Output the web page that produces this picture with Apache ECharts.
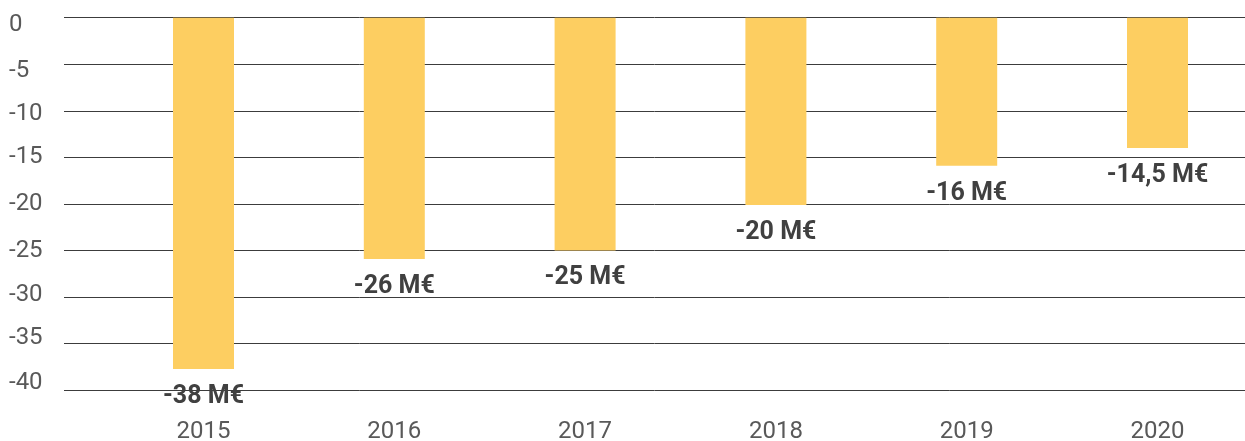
<!DOCTYPE html>
<html>
<head>
<meta charset="utf-8">
<script src="https://cdn.jsdelivr.net/npm/echarts@6/dist/echarts.min.js"></script>
<style>html,body{margin:0;padding:0;background:#fff}#c{width:1245px;height:441px}</style>
</head>
<body>
<div id="c"></div>
<script>
const years = ['2015', '2016', '2017', '2018', '2019', '2020'];
const values = [-37.7, -25.9, -25.0, -20.1, -15.9, -14.0];
const valueLabels = ['-38 M€', '-26 M€', '-25 M€', '-20 M€', '-16 M€', '-14,5 M€'];
const yMin = -40, yMax = 0, yStep = 5;

const shift = {'0': 7, '-5': 7, '-10': 3, '-15': 0, '-20': 0, '-25': 0, '-30': -2, '-35': -5.5, '-40': -7.5};
const rich = {};
Object.keys(shift).forEach((k, i) => {
  const d = shift[k];
  rich['r' + i] = {
    fontFamily: 'Roboto', fontSize: 24, color: '#595959',
    padding: d >= 0 ? [2 * d, 0, 0, 0] : [0, 0, -2 * d, 0]
  };
});
const keys = Object.keys(shift);

const chart = echarts.init(document.getElementById('c'), null, {renderer: 'canvas'});
chart.setOption({
  animation: false,
  backgroundColor: '#fff',
  textStyle: {fontFamily: 'Roboto'},
  grid: [
    {left: 64, right: 0, top: 17.7, bottom: 50.7, containLabel: false, outerBoundsMode: 'none'},
    {left: 203.5, right: 87.5, top: 17.7, bottom: 50.7, containLabel: false, outerBoundsMode: 'none'}
  ],
  xAxis: [
    {gridIndex: 0, type: 'value', min: 0, max: 1, show: false},
    {gridIndex: 1, type: 'category', data: years, boundaryGap: false,
     axisLine: {show: false}, axisTick: {show: false}, splitLine: {show: false},
     axisLabel: {color: '#595959', fontSize: 24, fontFamily: 'Roboto', margin: 30}}
  ],
  yAxis: [
    {gridIndex: 0, type: 'value', min: yMin, max: yMax, interval: yStep,
     axisLine: {show: false}, axisTick: {show: false},
     splitLine: {show: true, lineStyle: {color: '#3c3c3c', width: 1}},
     axisLabel: {
       margin: 55, align: 'left', rich: rich,
       formatter: v => {
         const idx = keys.indexOf(String(v));
         return '{r' + idx + '|' + v + '}';
       }
     }},
    {gridIndex: 1, type: 'value', min: yMin, max: yMax, show: false}
  ],
  series: [{
    type: 'bar', xAxisIndex: 1, yAxisIndex: 1,
    data: values, barWidth: 61,
    itemStyle: {color: '#FDCE61'},
    label: {
      show: true, position: 'bottom', distance: 15,
      formatter: p => valueLabels[p.dataIndex],
      fontFamily: 'Roboto', fontWeight: 'bold', fontSize: 25, color: '#404040'
    }
  }]
});
</script>
</body>
</html>
